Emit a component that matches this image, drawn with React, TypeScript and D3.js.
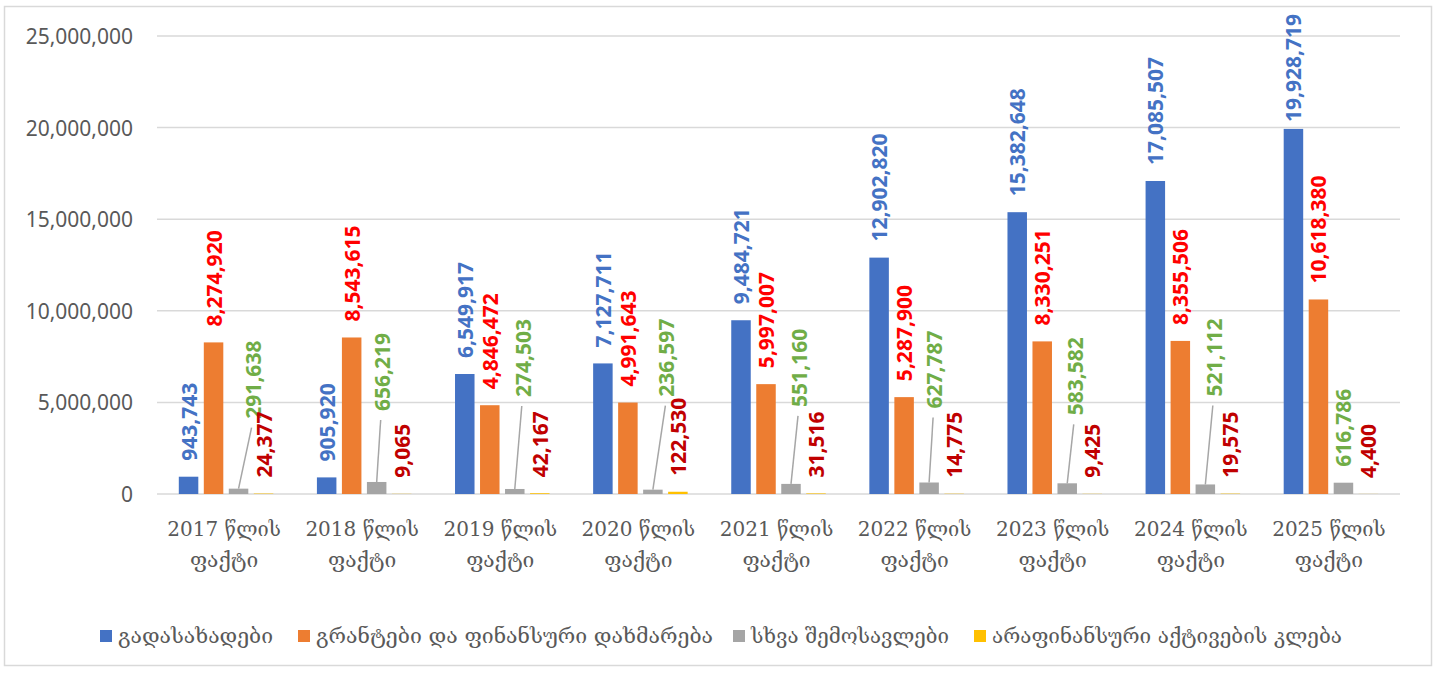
import React from "react";
import * as d3 from "d3";

const categories = [
  "2017 წლის ფაქტი",
  "2018 წლის ფაქტი",
  "2019 წლის ფაქტი",
  "2020 წლის ფაქტი",
  "2021 წლის ფაქტი",
  "2022 წლის ფაქტი",
  "2023 წლის ფაქტი",
  "2024 წლის ფაქტი",
  "2025 წლის ფაქტი",
];
const seriesNames = [
  "გადასახადები",
  "გრანტები და ფინანსური დახმარება",
  "სხვა შემოსავლები",
  "არაფინანსური აქტივების კლება",
];
const taxes = [943743, 905920, 6549917, 7127711, 9484721, 12902820, 15382648, 17085507, 19928719];
const grants = [8274920, 8543615, 4846472, 4991643, 5997007, 5287900, 8330251, 8355506, 10618380];
const otherRevenue = [291638, 656219, 274503, 236597, 551160, 627787, 583582, 521112, 616786];
const assetSales = [24377, 9065, 42167, 122530, 31516, 14775, 9425, 19575, 4400];
const yTicks = [0, 5000000, 10000000, 15000000, 20000000, 25000000];

const barColors = ["#4472C4", "#ED7D31", "#A5A5A5", "#FFC000"];
const labelColors = ["#4472C4", "#FF0000", "#70AD47", "#C00000"];
// manual label displacement for series 3 (dx, lift in px); null = default position
const otherLabelMoves: ([number, number] | null)[] = [
  [14, 54], [5, 55], [8, 76], [13.5, 77], [8, 61], [5, 58], [7.5, 52], [8.5, 72], null,
];

const W = 1439;
const H = 673;
const plotLeft = 157;
const plotRight = 1400;
const yTop = 36;
const yBottom = 494;
const fs = 21;
const fmt = d3.format(",");

function estLen(s: string) {
  let l = 0;
  for (const c of s) l += c === "," ? 0.29 * fs : 0.572 * fs;
  return l;
}

export default function App() {
  const allSeries = [taxes, grants, otherRevenue, assetSales];
  const x0 = d3.scaleBand<string>().domain(categories).range([plotLeft, plotRight]);
  const x1 = d3
    .scaleBand<number>()
    .domain([0, 1, 2, 3])
    .range([0, x0.bandwidth()])
    .paddingInner(0.22)
    .paddingOuter(0.872);
  const y = d3.scaleLinear().domain([0, 25000000]).range([yBottom, yTop]);
  const bw = x1.bandwidth();

  const legendX = [100, 298, 733, 974];
  const legendLen = [155, 397, 198, 350];

  return (
    <svg width={W} height={H} style={{ position: "absolute", left: 0, top: 0 }}>
      <rect x={0} y={0} width={W} height={H} fill="#fff" />
      <rect x={4.5} y={6.5} width={1427} height={659} fill="#fff" stroke="#D9D9D9" strokeWidth={1.5} />
      {yTicks.map((t) => (
        <g key={t}>
          <line x1={plotLeft} x2={plotRight} y1={y(t)} y2={y(t)} stroke="#D9D9D9" strokeWidth={1.5} />
          <text
            x={133}
            y={y(t)}
            textAnchor="end"
            dominantBaseline="central"
            fontFamily="'Noto Sans', sans-serif"
            fontSize={fs}
            fill="#595959"
          >
            {fmt(t)}
          </text>
        </g>
      ))}
      {categories.map((c, ci) => {
        const gx = x0(c)!;
        const parts = c.split(" ");
        const line1 = parts.slice(0, 2).join(" ");
        const line2 = parts.slice(2).join(" ");
        return (
          <g key={c}>
            {allSeries.map((s, si) => {
              const v = s[ci];
              const bx = gx + x1(si)!;
              const top = y(v);
              return (
                <rect key={si} x={bx} y={top} width={bw} height={yBottom - top} fill={barColors[si]} />
              );
            })}
            {allSeries.map((s, si) => {
              const v = s[ci];
              const label = fmt(v);
              const cx = gx + x1(si)! + bw / 2;
              const top = y(v);
              let bottom = top - 16;
              let lx = cx;
              let leader: React.ReactNode = null;
              if (si === 2 && otherLabelMoves[ci]) {
                const [dx, lift] = otherLabelMoves[ci]!;
                lx = cx + dx;
                bottom = top - 16 - lift;
                leader = (
                  <line x1={lx - 1} y1={bottom + 9} x2={cx} y2={top} stroke="#A6A6A6" strokeWidth={1.5} />
                );
              }
              const len = estLen(label);
              let anchor = "start";
              let ay = bottom;
              if (bottom - len < 14) {
                anchor = "end";
                ay = 14;
              }
              return (
                <g key={"l" + si}>
                  {leader}
                  <text
                    transform={`translate(${lx},${ay}) rotate(-90)`}
                    textAnchor={anchor}
                    dominantBaseline="central"
                    fontFamily="'Noto Sans', sans-serif"
                    fontWeight="bold"
                    fontSize={fs}
                    fill={labelColors[si]}
                  >
                    {label}
                  </text>
                </g>
              );
            })}
            <text
              x={gx + x0.bandwidth() / 2 - 2}
              y={536}
              textAnchor="middle"
              fontFamily="'DejaVu Serif', serif"
              fontSize={20}
              fill="#595959"
            >
              {line1}
            </text>
            <text
              x={gx + x0.bandwidth() / 2 - 2}
              y={567}
              textAnchor="middle"
              fontFamily="'DejaVu Serif', serif"
              fontSize={21}
              fill="#595959"
            >
              {line2}
            </text>
          </g>
        );
      })}
      {seriesNames.map((n, i) => (
        <g key={n}>
          <rect x={legendX[i]} y={630} width={12} height={12} fill={barColors[i]} />
          <text
            x={legendX[i] + 18}
            y={636}
            dominantBaseline="central"
            fontFamily="'DejaVu Serif', serif"
            fontSize={21}
            textLength={legendLen[i]}
            lengthAdjust="spacingAndGlyphs"
            fill="#595959"
          >
            {n}
          </text>
        </g>
      ))}
    </svg>
  );
}
